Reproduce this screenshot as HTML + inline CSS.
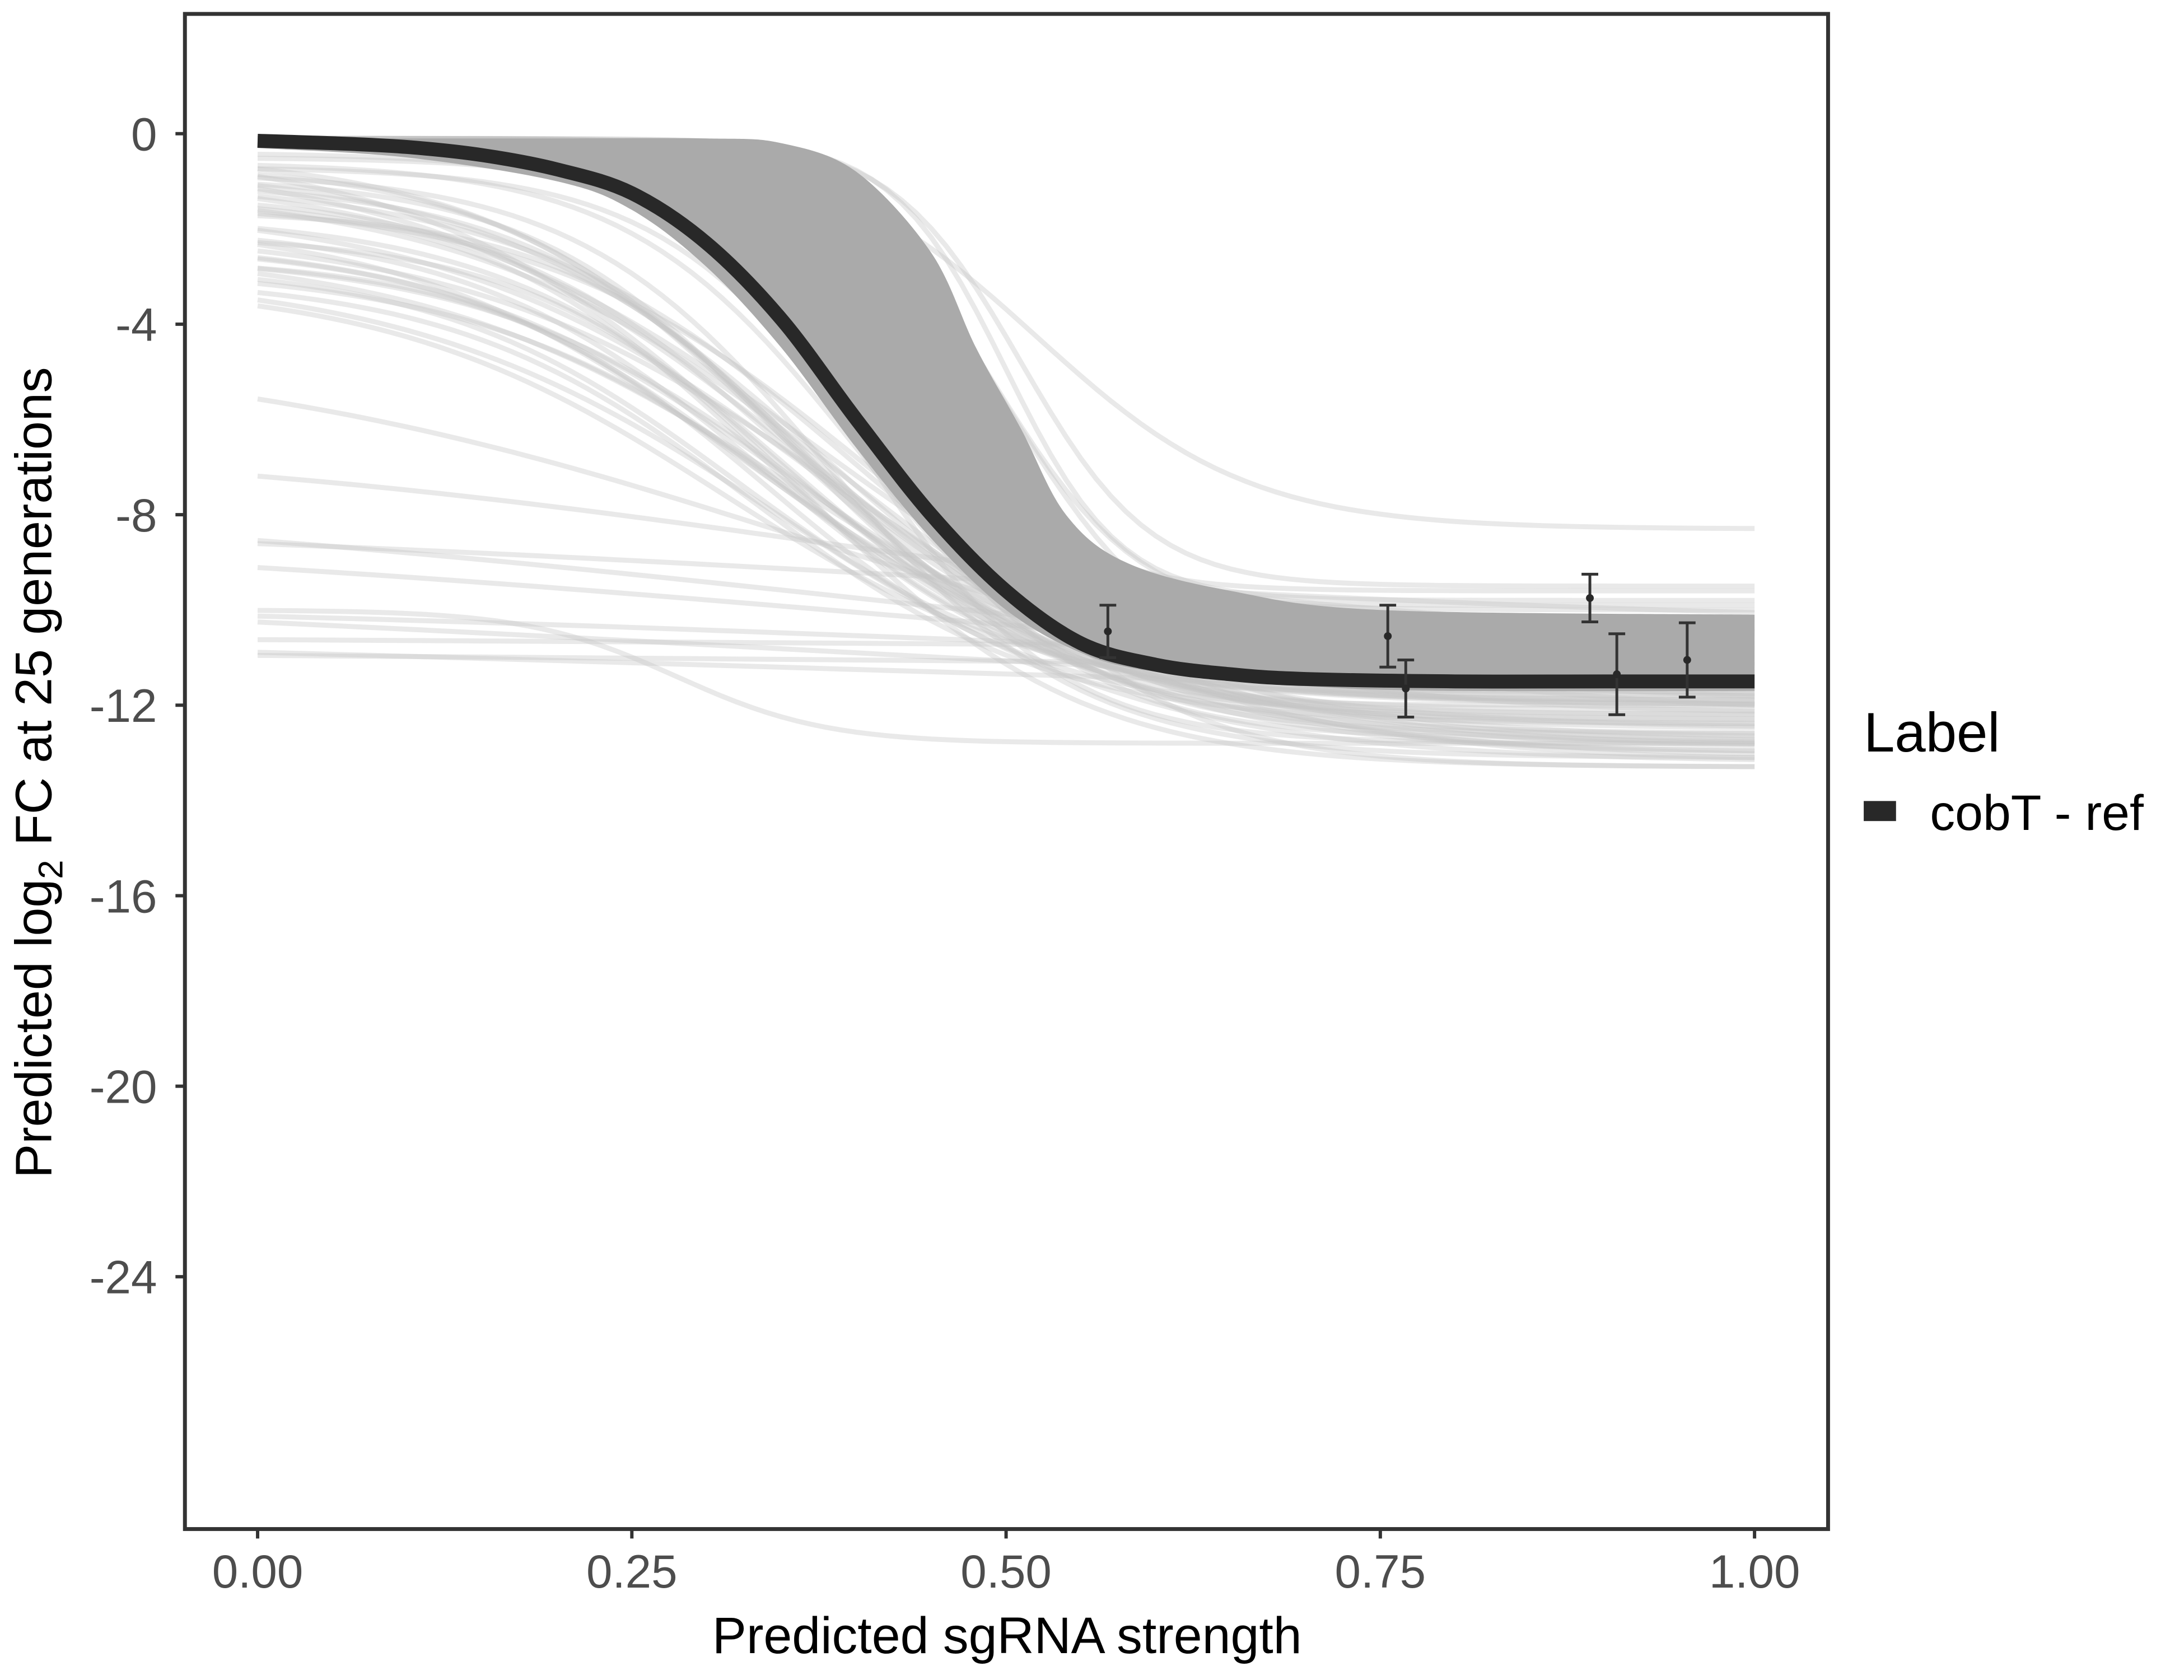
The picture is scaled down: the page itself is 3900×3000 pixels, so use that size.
<!DOCTYPE html>
<html><head><meta charset="utf-8"><style>
html,body{margin:0;padding:0;background:#fff;}
svg{display:block;font-family:"Liberation Sans",sans-serif;}
</style></head><body>
<svg id="chart" width="3900" height="3000" viewBox="0 0 3921 3016" preserveAspectRatio="none" xmlns="http://www.w3.org/2000/svg">
<rect x="0" y="0" width="3921" height="3016" fill="#fff"/>
<g id="plot"></g>
<rect x="332" y="25" width="2950" height="2720" fill="none" stroke="#333" stroke-width="7"/>
<g id="axes"></g>
<text x="1808" y="2968" text-anchor="middle" font-size="92" fill="#000">Predicted sgRNA strength</text>
<text transform="translate(92,1387) rotate(-90)" text-anchor="middle" font-size="92" fill="#000">Predicted  log<tspan font-size="62" dy="20">2</tspan><tspan dy="-20"> FC at 25 generations</tspan></text>
<g>
<text x="3346" y="1349" font-size="100" fill="#000">Label</text>
<rect x="3346" y="1438" width="58" height="36" fill="#282828"/>
<text x="3465" y="1490" font-size="90" fill="#000">cobT - ref</text>
</g>
</svg>
<script>
const xTicks = [0, 0.25, 0.5, 0.75, 1.0];
const xTickLabels = ["0.00", "0.25", "0.50", "0.75", "1.00"];
const yTicks = [0, -4, -8, -12, -16, -20, -24];
const yTickLabels = ["0", "-4", "-8", "-12", "-16", "-20", "-24"];
// main fitted curve (cobT - ref)
const mainX = [0, 0.05, 0.1, 0.15, 0.2, 0.25, 0.3, 0.35, 0.4, 0.45, 0.5, 0.55, 0.6, 0.65, 0.7, 0.8, 0.9, 1.0];
const mainY = [-0.15, -0.2, -0.28, -0.45, -0.75, -1.25, -2.3, -3.9, -6.0, -8.0, -9.6, -10.7, -11.15, -11.35, -11.45, -11.5, -11.5, -11.5];
// dense posterior band
const bandX = [0, 0.1, 0.2, 0.3, 0.35, 0.4, 0.45, 0.48, 0.51, 0.54, 0.58, 0.65, 0.75, 1.0];
const bandUpper = [-0.1, -0.1, -0.1, -0.1, -0.2, -0.8, -2.5, -4.5, -6.2, -8.0, -9.0, -9.6, -10.0, -10.1];
const bandLowerX = [0, 0.1, 0.2, 0.25, 0.3, 0.35, 0.4, 0.45, 0.5, 0.55, 0.6, 0.7, 0.8, 1.0];
const bandLower = [-0.3, -0.5, -1.0, -1.6, -2.8, -4.5, -6.6, -8.5, -10.0, -10.9, -11.3, -11.6, -11.7, -11.7];
// light posterior draws (sigmoid parameters)
const drawTop = [-0.3,-0.4,-0.5,-0.6,-0.7,-0.8,-0.9,-1.0,-1.1,-1.2,-1.3,-1.4,-1.5,-1.6,-1.7,-1.8,-1.9,-2.0,-2.1,-2.2,-2.3,-2.4,-2.5,-2.6,-2.7,-2.8,-2.9,-3.0,-3.1,-0.4,-0.6,-0.8,-1.0,-0.5,-0.7,
  -0.1,-0.1,-0.1,-0.1,-0.1,-0.1,-0.1,-0.1,-0.1,-0.1,-0.1,-0.1,-0.1,-0.1,-0.1,-0.1,-0.2,-0.2,-0.2,-0.2,
  -4.4,-6.4,-7.5,-8.1,-8.3,-9.2,-9.8,-10.3,-10.5,-10.8,-10.0];
const drawBottom = [-12.5,-12.0,-12.8,-11.5,-13.0,-12.2,-11.8,-12.9,-13.2,-12.4,-11.9,-12.7,-13.1,-12.1,-12.6,-11.7,-12.3,-12.9,-13.3,-12.0,-11.6,-12.5,-13.0,-12.2,-11.9,-12.8,-13.2,-12.4,-12.0,-11.8,-12.6,-13.1,-12.2,-11.9,-12.7,
  -9.6,-9.9,-10.2,-10.5,-10.8,-11.1,-11.4,-11.7,-12.0,-9.8,-10.0,-10.4,-10.7,-11.0,-11.3,-9.5,-12.3,-13.3,-12.8,-8.3,
  -12.3,-10.8,-12.0,-10.4,-11.8,-12.6,-11.4,-12.2,-10.9,-11.3,-12.8];
const drawMid = [0.33,0.35,0.36,0.34,0.38,0.37,0.35,0.4,0.39,0.36,0.33,0.41,0.38,0.37,0.36,0.32,0.34,0.39,0.37,0.35,0.33,0.36,0.38,0.34,0.32,0.37,0.35,0.33,0.31,0.42,0.4,0.38,0.36,0.43,0.41,
  0.45,0.47,0.49,0.44,0.46,0.48,0.43,0.45,0.47,0.5,0.42,0.44,0.46,0.48,0.5,0.51,0.42,0.44,0.4,0.52,
  0.35,0.38,0.4,0.42,0.4,0.4,0.45,0.4,0.4,0.4,0.28];
const drawSlope = [9,10,8,11,9,8,12,9,8,10,11,9,8,12,10,9,10,8,11,9,10,8,9,11,10,9,8,10,9,14,13,12,11,15,14,
  22,24,20,18,21,23,19,25,22,26,17,20,24,21,18,23,14,13,15,14,
  5,4,3,3,3,2,3,2,2,2,20];
// observed points with error bars
const ptX = [0.568, 0.755, 0.767, 0.89, 0.908, 0.955];
const ptY = [-10.45, -10.55, -11.65, -9.75, -11.35, -11.05];
const ptErr = [0.55, 0.65, 0.6, 0.5, 0.85, 0.78];

const NS = "http://www.w3.org/2000/svg";
const X0 = 462.5, X1 = 3150, Y0 = 240, PER = 85.5;
function sx(v){ return X0 + v * (X1 - X0); }
function sy(v){ return Y0 - v * PER; }
function mk(tag, attrs, parent){
  const e = document.createElementNS(NS, tag);
  for (const k in attrs) e.setAttribute(k, attrs[k]);
  parent.appendChild(e);
  return e;
}
function pts(xs, ys){ return xs.map((x, i) => [sx(x), sy(ys[i])]); }
function smoothSeg(P, start){
  let d = start ? 'M' + P[0][0] + ',' + P[0][1] : 'L' + P[0][0] + ',' + P[0][1];
  for (let i = 0; i < P.length - 1; i++){
    const p0 = P[Math.max(0, i - 1)], p1 = P[i], p2 = P[i + 1], p3 = P[Math.min(P.length - 1, i + 2)];
    const c1 = [p1[0] + (p2[0] - p0[0]) / 6, p1[1] + (p2[1] - p0[1]) / 6];
    const c2 = [p2[0] - (p3[0] - p1[0]) / 6, p2[1] - (p3[1] - p1[1]) / 6];
    d += 'C' + c1.join(',') + ' ' + c2.join(',') + ' ' + p2.join(',');
  }
  return d;
}
const plot = document.getElementById('plot');
const axes = document.getElementById('axes');

// light draws
const gDraws = mk('g', {}, plot);


for (let i = 0; i < drawTop.length; i++){
  let d = '';
  for (let j = 0; j <= 100; j++){
    const x = j / 100;
    const y = drawTop[i] + (drawBottom[i] - drawTop[i]) / (1 + Math.exp(-drawSlope[i] * (x - drawMid[i])));
    d += (j ? 'L' : 'M') + sx(x).toFixed(1) + ',' + sy(y).toFixed(1);
  }
  const p = mk('path', {d: d, fill: 'none', stroke: '#c4c4c4', 'stroke-opacity': '0.38', 'stroke-width': '9'}, gDraws);
  
  
}
// band
const up = pts(bandX, bandUpper);
const lo = pts(bandLowerX, bandLower).reverse();
const bd = smoothSeg(up, true) + smoothSeg(lo, false) + 'Z';
const band = mk('path', {d: bd, fill: '#aaaaaa', stroke: 'none'}, plot);



const main = mk('path', {d: smoothSeg(pts(mainX, mainY), true), fill: 'none', stroke: '#282828', 'stroke-width': '25'}, plot);



// points
for (let i = 0; i < ptX.length; i++){
  const g = mk('g', {stroke: '#333', 'stroke-width': '5'}, plot);
  
  
  const cx = sx(ptX[i]), t = sy(ptY[i] + ptErr[i]), b = sy(ptY[i] - ptErr[i]);
  mk('line', {x1: cx, x2: cx, y1: t, y2: b}, g);
  mk('line', {x1: cx - 15, x2: cx + 15, y1: t, y2: t}, g);
  mk('line', {x1: cx - 15, x2: cx + 15, y1: b, y2: b}, g);
  mk('circle', {cx: cx, cy: sy(ptY[i]), r: 7, fill: '#282828', stroke: 'none'}, g);
}

// axes ticks
for (let i = 0; i < xTicks.length; i++){
  const x = sx(xTicks[i]);
  const t = mk('line', {x1: x, x2: x, y1: 2748, y2: 2762, stroke: '#333', 'stroke-width': '6'}, axes);
  
  
  const l = mk('text', {x: x, y: 2850, 'text-anchor': 'middle', 'font-size': '84', fill: '#4d4d4d'}, axes);
  l.textContent = xTickLabels[i];
  
  
}
for (let i = 0; i < yTicks.length; i++){
  const y = sy(yTicks[i]);
  const t = mk('line', {x1: 315, x2: 329, y1: y, y2: y, stroke: '#333', 'stroke-width': '6'}, axes);
  
  
  const l = mk('text', {x: 282, y: y + 30, 'text-anchor': 'end', 'font-size': '84', fill: '#4d4d4d'}, axes);
  l.textContent = yTickLabels[i];
  
  
}
</script>
</body></html>
